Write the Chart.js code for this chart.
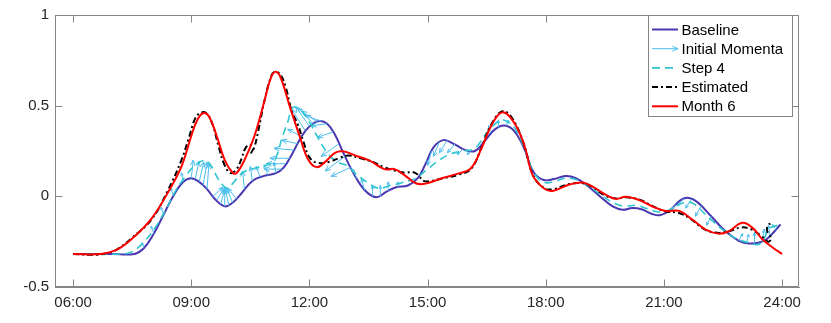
<!DOCTYPE html>
<html><head><meta charset="utf-8">
<script src="https://cdn.jsdelivr.net/npm/chart.js@4/dist/chart.umd.min.js"></script>
<style>html,body{margin:0;padding:0;background:#fff;}#wrap{width:831px;height:323px;}</style>
</head><body><div id="wrap"><canvas id="c" width="831" height="323"></canvas></div>
<script>
// ---- tick labels ----
const xTickHours = [6, 9, 12, 15, 18, 21, 24];
const xTickLabels = ['06:00', '09:00', '12:00', '15:00', '18:00', '21:00', '24:00'];
const yTickValues = [-0.5, 0, 0.5, 1];
const seriesNames = ['Baseline', 'Initial Momenta', 'Step 4', 'Estimated', 'Month 6'];

// ---- Baseline ----
const baselineHours = [6.0,7.0,7.55,7.8,8.05,8.3,8.55,8.8,9.0,9.2,9.4,9.6,9.85,10.05,10.25,10.55,10.85,11.15,11.35,11.55,11.8,12.0,12.25,12.45,12.65,12.85,13.1,13.4,13.7,13.95,14.2,14.5,14.75,14.95,15.15,15.4,15.7,15.95,16.2,16.45,16.7,16.95,17.2,17.45,17.7,17.95,18.2,18.5,18.75,19.05,19.4,19.7,19.95,20.2,20.45,20.7,20.9,21.15,21.4,21.6,21.85,22.2,22.55,22.9,23.15,23.4,23.6,23.8,23.96];
const baselineValues = [-0.318,-0.318,-0.318,-0.285,-0.205,-0.1,0.005,0.08,0.1,0.08,0.04,-0.015,-0.055,-0.035,0.01,0.085,0.113,0.128,0.16,0.23,0.33,0.385,0.415,0.4,0.34,0.245,0.135,0.035,-0.005,0.025,0.05,0.06,0.1,0.18,0.27,0.31,0.285,0.256,0.25,0.305,0.368,0.39,0.36,0.265,0.13,0.09,0.095,0.112,0.102,0.06,-0.005,-0.056,-0.074,-0.065,-0.073,-0.097,-0.104,-0.078,-0.025,-0.008,-0.032,-0.11,-0.19,-0.245,-0.26,-0.256,-0.238,-0.195,-0.155];

// ---- Initial Momenta (arrow start on baseline + components) ----
const momentaHours  = [7.8,8.05,8.3,8.55,8.8, 9.0,9.1,9.2,9.3,9.4, 9.55,9.65,9.75,9.85,9.95,10.05,10.15, 10.35,10.55,10.75,10.95,11.15, 11.3,11.4,11.5,11.6,11.7,11.8, 11.9,12.0,12.1,12.2,12.3, 12.45,12.6,12.75,12.9,13.05, 13.2,13.4,13.6,13.8,14.0,14.25, 15.1,15.3,15.5,15.7,15.9,16.1, 16.6,16.8,17.0, 21.3,21.5,21.7,21.95,22.2, 22.9,23.1,23.3, 23.5,23.7,23.85];
const momentaValues = [-0.285,-0.205,-0.1,0.005,0.08, 0.1,0.095,0.08,0.06,0.04, 0.0,-0.02,-0.045,-0.055,-0.05,-0.035,-0.015, 0.04,0.085,0.105,0.115,0.128, 0.15,0.18,0.21,0.255,0.29,0.33, 0.36,0.385,0.4,0.41,0.415, 0.4,0.355,0.29,0.22,0.16, 0.1,0.035,0.0,0.0,0.03,0.05, 0.25,0.3,0.31,0.29,0.26,0.25, 0.35,0.38,0.39, -0.045,-0.012,-0.015,-0.05,-0.11, -0.245,-0.258,-0.26, -0.25,-0.22,-0.185];
const momentaDH     = [-0.05,-0.07,-0.07,-0.07,-0.05, 0.05,0.1,0.12,0.1,0.05, 0.25,0.2,0.1,0.0,-0.08,-0.15,-0.22, -0.05,-0.05,-0.1,-0.1,-0.05, -0.45,-0.5,-0.5,-0.5,-0.4,-0.35, -0.35,-0.35,-0.4,-0.4,-0.4, -0.4,-0.4,-0.45,-0.5,-0.5, -0.1,-0.08,0.0,0.0,0.0,0.0, -0.1,-0.15,-0.2,-0.2,-0.15,-0.1, -0.05,0.0,0.05, -0.1,-0.15,-0.15,-0.15,-0.12, 0.1,0.05,0.0, 0.05,-0.05,-0.1];
const momentaDV     = [0.03,0.04,0.04,0.04,0.05, 0.1,0.1,0.11,0.13,0.14, 0.05,0.07,0.09,0.1,0.09,0.08,0.06, 0.1,0.08,0.06,0.06,0.06, 0.0,0.0,0.0,0.01,0.02,0.04, 0.12,0.11,0.09,0.06,0.03, -0.01,-0.03,-0.07,-0.08,-0.05, 0.05,0.06,0.06,0.06,0.05,0.03, -0.08,-0.08,-0.07,-0.05,-0.03,-0.02, 0.04,0.04,0.03, -0.03,-0.04,-0.05,-0.06,-0.05, 0.04,0.05,0.06, 0.07,0.06,0.03];

// ---- Step 4 ----
const step4Hours = [6.0,7.2,7.5,7.82,8.08,8.33,8.59,8.84,9.09,9.35,9.5,9.7,9.9,10.05,10.3,10.7,11.05,11.18,11.3,11.45,11.58,11.8,12.0,12.2,12.45,12.7,12.95,13.2,13.45,13.75,14.05,14.35,14.7,15.0,15.3,15.6,15.9,16.2,16.5,16.8,16.95,17.2,17.45,17.7,17.95,18.2,18.5,18.8,19.1,19.45,19.75,20.0,20.3,20.6,20.9,21.2,21.5,21.75,22.1,22.5,22.85,23.15,23.4,23.55,23.65,23.8,23.95];
const step4Values = [-0.318,-0.318,-0.305,-0.246,-0.174,-0.083,0.026,0.107,0.17,0.198,0.17,0.09,0.045,0.07,0.13,0.16,0.185,0.23,0.32,0.41,0.49,0.47,0.41,0.33,0.24,0.19,0.17,0.12,0.08,0.045,0.06,0.075,0.1,0.15,0.2,0.235,0.25,0.265,0.35,0.415,0.42,0.38,0.27,0.13,0.078,0.08,0.1,0.09,0.055,0.0,-0.04,-0.055,-0.05,-0.07,-0.088,-0.068,-0.035,-0.04,-0.11,-0.185,-0.235,-0.255,-0.265,-0.23,-0.18,-0.165,-0.16];

// ---- Estimated ----
const estimatedHours = [6.0,6.6,6.9,7.1,7.5,8.0,8.4,8.75,8.95,9.1,9.25,9.4,9.55,9.7,9.85,10.0,10.15,10.28,10.36,10.47,10.57,10.52,10.6,10.7,10.85,11.0,11.1,11.25,11.4,11.55,11.7,11.85,12.0,12.2,12.5,12.8,13.0,13.3,13.6,13.9,14.2,14.45,14.6,14.75,14.9,15.1,15.4,15.8,16.1,16.36,16.6,16.9,17.15,17.45,17.67,17.96,18.2,18.6,18.95,19.2,19.5,19.8,20.05,20.4,20.75,21.05,21.35,21.65,22.0,22.3,22.6,22.95,23.2,23.45,23.65,23.72,23.62,23.64,23.72];
const estimatedValues = [-0.318,-0.322,-0.31,-0.295,-0.228,-0.125,0.03,0.2,0.33,0.43,0.462,0.455,0.39,0.27,0.17,0.128,0.15,0.21,0.26,0.285,0.265,0.24,0.27,0.36,0.52,0.645,0.685,0.675,0.6,0.47,0.4,0.3,0.215,0.185,0.19,0.215,0.225,0.21,0.19,0.16,0.14,0.13,0.135,0.12,0.085,0.085,0.1,0.12,0.15,0.265,0.39,0.47,0.43,0.285,0.12,0.045,0.04,0.068,0.072,0.05,0.005,-0.012,-0.005,-0.02,-0.058,-0.084,-0.09,-0.12,-0.178,-0.2,-0.196,-0.172,-0.18,-0.215,-0.25,-0.23,-0.19,-0.16,-0.148];

// ---- Month 6 ----
const month6Hours = [6.0,6.7,7.15,7.57,8.0,8.42,8.76,9.0,9.15,9.3,9.45,9.65,9.85,10.05,10.15,10.35,10.6,10.85,11.0,11.12,11.25,11.5,11.75,11.96,12.18,12.4,12.65,12.85,13.18,13.53,13.9,14.16,14.42,14.7,14.95,15.34,15.77,16.1,16.36,16.61,16.9,17.2,17.46,17.67,17.96,18.17,18.6,18.93,19.19,19.53,19.78,20.03,20.37,20.71,21.05,21.39,21.72,22.06,22.4,22.65,22.99,23.25,23.5,23.76,24.0];
const month6Values = [-0.318,-0.318,-0.29,-0.219,-0.12,0.026,0.17,0.333,0.42,0.458,0.44,0.33,0.2,0.13,0.128,0.2,0.33,0.52,0.64,0.686,0.665,0.496,0.333,0.206,0.161,0.19,0.24,0.248,0.224,0.197,0.15,0.15,0.116,0.072,0.07,0.098,0.125,0.155,0.26,0.387,0.463,0.405,0.279,0.116,0.043,0.03,0.065,0.076,0.053,0.008,-0.014,-0.002,-0.02,-0.056,-0.081,-0.08,-0.128,-0.183,-0.206,-0.192,-0.146,-0.174,-0.237,-0.282,-0.318];

const pts = (xs, ys) => xs.map((x, i) => ({x: x, y: ys[i]}));
const FONT = '"Liberation Sans", Arial, Helvetica, sans-serif';
const AXIS = '#858585';

const datasets = [
  {label: seriesNames[0], data: pts(baselineHours, baselineValues), borderColor: '#4936B0', borderWidth: 2, order: 4},
  {label: seriesNames[1], data: pts(momentaHours, momentaValues), borderColor: '#4DBEEE', borderWidth: 1, showLine: false, order: 3, isArrows: true},
  {label: seriesNames[2], data: pts(step4Hours, step4Values), borderColor: '#2EC6CC', borderWidth: 1.6, borderDash: [8, 5], order: 2},
  {label: seriesNames[3], data: pts(estimatedHours, estimatedValues), borderColor: '#000000', borderWidth: 2, borderDash: [6, 3, 2, 3], order: 1},
  {label: seriesNames[4], data: pts(month6Hours, month6Values), borderColor: '#FF0000', borderWidth: 2, order: 0}
];

function drawArrow(ctx, x0, y0, x1, y1, head) {
  const ang = Math.atan2(y1 - y0, x1 - x0);
  const len = Math.hypot(x1 - x0, y1 - y0);
  const h = head || Math.max(3, Math.min(6, 0.35 * len));
  ctx.beginPath();
  ctx.moveTo(x0, y0); ctx.lineTo(x1, y1);
  ctx.moveTo(x1 - h * Math.cos(ang - 0.4), y1 - h * Math.sin(ang - 0.4));
  ctx.lineTo(x1, y1);
  ctx.lineTo(x1 - h * Math.cos(ang + 0.4), y1 - h * Math.sin(ang + 0.4));
  ctx.stroke();
}

const decor = {
  id: 'decor',
  afterDatasetDraw(chart, args) {
    const ds = chart.data.datasets[args.index];
    if (!ds.isArrows) return;
    const xs = chart.scales.x, ys = chart.scales.y, ctx = chart.ctx;
    ctx.save();
    ctx.strokeStyle = ds.borderColor; ctx.lineWidth = 1; ctx.setLineDash([]);
    momentaHours.forEach((h, i) => {
      drawArrow(ctx, xs.getPixelForValue(h), ys.getPixelForValue(momentaValues[i]),
        xs.getPixelForValue(h + momentaDH[i]), ys.getPixelForValue(momentaValues[i] + momentaDV[i]));
    });
    ctx.restore();
  },
  afterDraw(chart) {
    const ctx = chart.ctx, a = chart.chartArea, xs = chart.scales.x, ys = chart.scales.y;
    ctx.save();
    ctx.strokeStyle = AXIS; ctx.lineWidth = 1; ctx.setLineDash([]);
    const L = Math.round(a.left) + 0.5, R = Math.round(a.right) - 0.5, T = Math.round(a.top) + 0.5, B = Math.round(a.bottom) - 0.5;
    ctx.beginPath();
    ctx.moveTo(L, T); ctx.lineTo(R, T); ctx.lineTo(R, B); ctx.lineTo(L, B); ctx.closePath();
    xTickHours.forEach(h => { const p = Math.round(xs.getPixelForValue(h)) + 0.5; ctx.moveTo(p, B); ctx.lineTo(p, B - 7); ctx.moveTo(p, T); ctx.lineTo(p, T + 7); });
    yTickValues.forEach(v => { const p = Math.round(ys.getPixelForValue(v)) + 0.5; ctx.moveTo(L, p); ctx.lineTo(L + 7, p); ctx.moveTo(R, p); ctx.lineTo(R - 7, p); });
    ctx.stroke();

    // legend
    const bx = 648.5, by = 15.5, bw = 144, bh = 101;
    ctx.fillStyle = '#ffffff'; ctx.fillRect(bx, by, bw, bh);
    ctx.strokeStyle = AXIS; ctx.strokeRect(bx, by, bw, bh);
    ctx.font = '15px ' + FONT; ctx.textBaseline = 'middle'; ctx.textAlign = 'left'; ctx.fillStyle = '#000';
    chart.data.datasets.forEach((ds, i) => {
      const y = 29.5 + i * 19.2;
      ctx.strokeStyle = ds.borderColor;
      if (ds.isArrows) {
        ctx.lineWidth = 1; ctx.setLineDash([]);
        drawArrow(ctx, 652, y, 678, y, 6);
      } else {
        ctx.lineWidth = ds.borderWidth; ctx.setLineDash(ds.borderDash || []);
        ctx.beginPath(); ctx.moveTo(652, y); ctx.lineTo(678, y); ctx.stroke();
      }
      ctx.setLineDash([]);
      ctx.fillStyle = '#000';
      ctx.fillText(ds.label, 681.5, y + 1);
    });
    ctx.restore();
  }
};

new Chart(document.getElementById('c'), {
  type: 'line',
  data: {datasets: datasets},
  options: {
    responsive: false, animation: false, devicePixelRatio: 1,
    layout: {padding: {left: 0, right: 32, top: 10, bottom: 0}},
    elements: {point: {radius: 0}, line: {tension: 0.4, borderCapStyle: 'butt'}},
    plugins: {legend: {display: false}, tooltip: {enabled: false}},
    scales: {
      x: {
        type: 'linear', min: 5.54, max: 24.43,
        afterBuildTicks: s => { s.ticks = xTickHours.map(v => ({value: v})); },
        afterFit: s => { s.height = 36; },
        ticks: {autoSkip: false, maxRotation: 0, padding: 7, color: '#262626', font: {size: 15, family: FONT},
          callback: v => xTickLabels[xTickHours.indexOf(v)]},
        grid: {drawOnChartArea: false, drawTicks: false},
        border: {color: AXIS}
      },
      y: {
        min: -0.5, max: 1,
        afterBuildTicks: s => { s.ticks = yTickValues.map(v => ({value: v})); },
        afterFit: s => { s.width = 55; },
        ticks: {padding: 6, color: '#262626', font: {size: 15, family: FONT}, callback: v => String(v)},
        grid: {drawOnChartArea: false, drawTicks: false},
        border: {color: AXIS}
      }
    }
  },
  plugins: [decor]
});
</script>
</body></html>
